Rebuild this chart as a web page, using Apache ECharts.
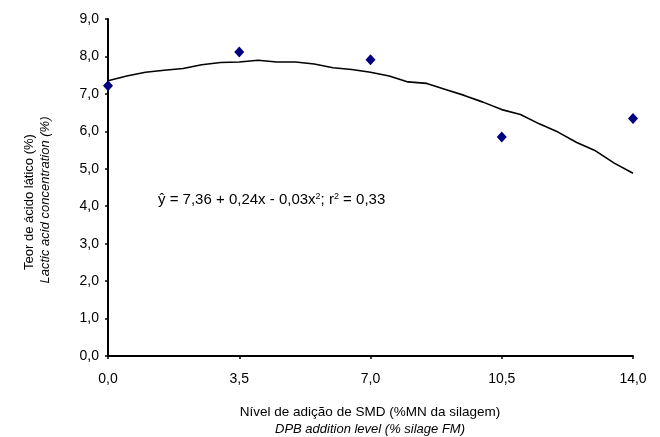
<!DOCTYPE html>
<html><head><meta charset="utf-8">
<script src="https://cdn.jsdelivr.net/npm/echarts@6/dist/echarts.min.js"></script>
<style>html,body{margin:0;padding:0;background:#fff}#c{width:660px;height:437px}</style>
</head><body><div id="c"></div>
<script>
const xTicks = [0, 3.5, 7, 10.5, 14];
const obsX = [0, 3.5, 7, 10.5, 14];
const obsY = [7.22, 8.12, 7.91, 5.85, 6.34];
const fitX = [0,0.5,1,1.5,2,2.5,3,3.5,4,4.5,5,5.5,6,6.5,7,7.5,8,8.5,9,9.5,10,10.5,11,11.5,12,12.5,13,13.5,14];
const fitY = [7.35,7.48,7.58,7.63,7.68,7.78,7.84,7.85,7.90,7.85,7.85,7.80,7.70,7.65,7.58,7.48,7.32,7.28,7.12,6.96,6.78,6.58,6.45,6.20,5.98,5.70,5.48,5.15,4.88];
const yTitle1 = 'Teor de ácido lático (%)';
const yTitle2 = 'Lactic acid concentration (%)';
const xTitle1 = 'Nível de adição de SMD (%MN da silagem)';
const xTitle2 = 'DPB addition level (% silage FM)';

const fmt = v => v.toFixed(1).replace('.', ',');
const chart = echarts.init(document.getElementById('c'));
const FONT = 'Liberation Sans, Arial, sans-serif';
chart.setOption({
  animation: false,
  backgroundColor: '#fff',
  grid: {left: 108, right: 27, top: 19, bottom: 81},
  xAxis: {
    type: 'value', min: 0, max: 14, interval: 3.5,
    axisLine: {lineStyle: {color: '#000', width: 2}},
    axisTick: {show: true, length: 3, lineStyle: {color: '#000', width: 1.5}},
    axisLabel: {color: '#000', fontFamily: FONT, fontSize: 14, margin: 16, formatter: fmt},
    splitLine: {show: false}
  },
  yAxis: {
    type: 'value', min: 0, max: 9, interval: 1,
    axisLine: {show: true, lineStyle: {color: '#000', width: 2}},
    axisTick: {show: true, length: 3, lineStyle: {color: '#000', width: 1.5}},
    axisLabel: {color: '#000', fontFamily: FONT, fontSize: 14, margin: 9, formatter: fmt},
    splitLine: {show: false}
  },
  series: [
    {type: 'line', data: fitX.map((x, i) => [x, fitY[i]]), showSymbol: false, symbol: 'none',
     lineStyle: {color: '#000', width: 1.6}, z: 2},
    {type: 'scatter', data: obsX.map((x, i) => [x, obsY[i]]), symbol: 'diamond', symbolSize: [10, 11],
     itemStyle: {color: '#000080', opacity: 1}, z: 3}
  ],
  graphic: [
    {type: 'text', x: 29, y: 202, rotation: Math.PI / 2,
     style: {text: yTitle1, fill: '#000', font: '13px ' + FONT, align: 'center', verticalAlign: 'middle'}},
    {type: 'text', x: 45, y: 200, rotation: Math.PI / 2,
     style: {text: yTitle2, fill: '#000', font: 'italic 13px ' + FONT, align: 'center', verticalAlign: 'middle'}},
    {type: 'text', x: 370, y: 412,
     style: {text: xTitle1, fill: '#000', font: '13.5px ' + FONT, align: 'center', verticalAlign: 'middle'}},
    {type: 'text', x: 370, y: 429,
     style: {text: xTitle2, fill: '#000', font: 'italic 13px ' + FONT, align: 'center', verticalAlign: 'middle'}},
    {type: 'text', x: 158, y: 200,
     style: {
       text: '{a|ŷ = 7,36 + 0,24x - 0,03x}{s|2}{a|; r}{s|2}{a| = 0,33}',
       verticalAlign: 'middle',
       rich: {
         a: {fontFamily: FONT, fontSize: 15, fill: '#000', color: '#000'},
         s: {fontFamily: FONT, fontSize: 9, fill: '#000', color: '#000', verticalAlign: 'top', padding: [0, 0, 7, 0]}
       }
     }}
  ]
});
</script></body></html>
